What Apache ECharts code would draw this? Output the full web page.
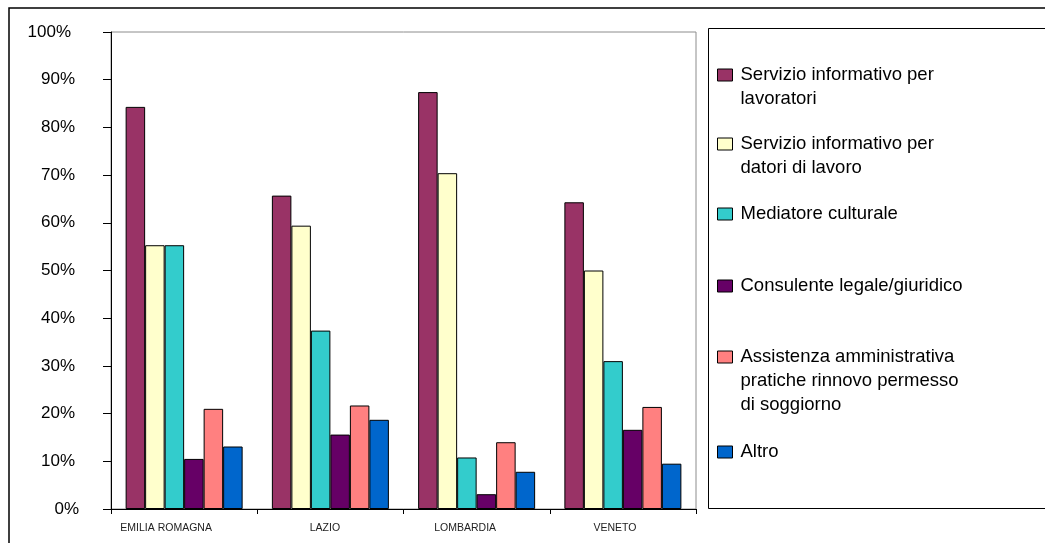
<!DOCTYPE html>
<html>
<head>
<meta charset="utf-8">
<script src="https://cdn.jsdelivr.net/npm/echarts@6/dist/echarts.min.js"></script>
<style>
  html, body { margin: 0; padding: 0; background: #fff; }
  #chart { width: 1045px; height: 543px; }
</style>
</head>
<body>
<div id="chart"></div>
<script>
// Regions on the x axis
var regions = ['EMILIA ROMAGNA', 'LAZIO', 'LOMBARDIA', 'VENETO'];

// Service names (legend text, with manual line breaks)
var serviceNames = [
  'Servizio informativo per\nlavoratori',
  'Servizio informativo per\ndatori di lavoro',
  'Mediatore culturale',
  'Consulente legale/giuridico',
  'Assistenza amministrativa\npratiche rinnovo permesso\ndi soggiorno',
  'Altro'
];

// Share of respondents per service, in percent, one value per region
var lavoratori      = [84.3, 65.7, 87.4, 64.3];
var datoriLavoro    = [55.3, 59.4, 70.4, 50.0];
var mediatore       = [55.3, 37.4, 10.8, 31.0];
var consulente      = [10.5, 15.6,  3.1, 16.6];
var assistenza      = [21.0, 21.7, 14.0, 21.4];
var altro           = [13.1, 18.7,  7.8,  9.5];

// Y axis tick labels
var yTicks = [0, 10, 20, 30, 40, 50, 60, 70, 80, 90, 100];

var seriesValues = [lavoratori, datoriLavoro, mediatore, consulente, assistenza, altro];
var colors = ['#993366', '#FFFFCC', '#33CCCC', '#660066', '#FF8080', '#0066CC'];
var FONT = 'Liberation Sans, Arial, sans-serif';

// Vertical centre of each legend marker
var legendCenters = [75, 144, 214, 286, 357, 452];
var LINE_H = 24;

// Each legend entry gets its own legend so the marker sits beside the first text line:
// blank lines are prepended so that the first line is the middle of the text block.
var legends = serviceNames.map(function (name, i) {
  var n = name.split('\n').length;
  return {
    data: [name],
    orient: 'vertical',
    left: 717,
    top: legendCenters[i] - (2 * n - 1) * LINE_H / 2,
    padding: 0,
    itemWidth: 15,
    itemHeight: 12,
    selectedMode: false,
    icon: 'rect',
    itemStyle: { borderColor: '#000', borderWidth: 1 },
    formatter: function (nm) {
      return new Array(n).join('\n') + nm;
    },
    textStyle: {
      fontFamily: FONT,
      fontSize: 18.5,
      color: '#000',
      lineHeight: LINE_H,
      padding: [0, 0, 0, 3]
    }
  };
});

// Label boxes are padded on the right so the text sits a little left of its anchor
var xLabelPad = { 'EMILIA ROMAGNA': 36, 'LAZIO': 11, 'LOMBARDIA': 23, 'VENETO': 16 };
var xRich = {};
regions.forEach(function (r, i) {
  xRich['c' + i] = { fontFamily: FONT, fontSize: 10.5, color: '#222', padding: [0, xLabelPad[r], 0, 0] };
});

var chart = echarts.init(document.getElementById('chart'), null, { renderer: 'canvas' });

chart.setOption({
  animation: false,
  backgroundColor: '#fff',
  graphic: [
    {
      type: 'rect',
      shape: { x: 9, y: 8, width: 1100, height: 600 },
      style: { fill: 'none', stroke: '#000', lineWidth: 1.5 },
      z: 0
    },
    {
      type: 'rect',
      shape: { x: 708.5, y: 28.5, width: 400, height: 480 },
      style: { fill: 'none', stroke: '#000', lineWidth: 1 },
      z: 0
    }
  ],
  legend: legends,
  grid: {
    left: 111,
    top: 32,
    right: 349,
    bottom: 34,
    show: true,
    borderColor: '#8c8c8c',
    borderWidth: 1,
    backgroundColor: 'transparent'
  },
  xAxis: {
    type: 'category',
    data: regions,
    axisLine: { lineStyle: { color: '#000', width: 1 } },
    axisTick: { show: true, interval: 0, length: 5, alignWithLabel: false, lineStyle: { color: '#000' } },
    axisLabel: {
      interval: 0,
      hideOverlap: false,
      margin: 14,
      formatter: function (v) { return '{c' + regions.indexOf(v) + '|' + v + '}'; },
      rich: xRich
    }
  },
  yAxis: {
    type: 'value',
    min: yTicks[0],
    max: yTicks[yTicks.length - 1],
    interval: 10,
    splitLine: { show: false },
    axisLine: { show: true, lineStyle: { color: '#000', width: 1 } },
    axisTick: { show: true, length: 8, lineStyle: { color: '#000' } },
    axisLabel: {
      margin: 23,
      formatter: function (v) {
        var s = v + '%';
        return '{p' + s.length + '|' + s + '}';
      },
      rich: {
        p2: { fontFamily: FONT, fontSize: 17, color: '#000', padding: [0, 9, 0, 0] },
        p3: { fontFamily: FONT, fontSize: 17, color: '#000', padding: [0, 13, 0, 0] },
        p4: { fontFamily: FONT, fontSize: 17, color: '#000', padding: [0, 17, 0, 0] }
      }
    }
  },
  series: seriesValues.map(function (vals, i) {
    return {
      name: serviceNames[i],
      type: 'bar',
      data: vals,
      barGap: '0%',
      barCategoryGap: '20%',
      itemStyle: { color: colors[i], borderColor: '#000', borderWidth: 1 }
    };
  })
});
</script>
</body>
</html>
